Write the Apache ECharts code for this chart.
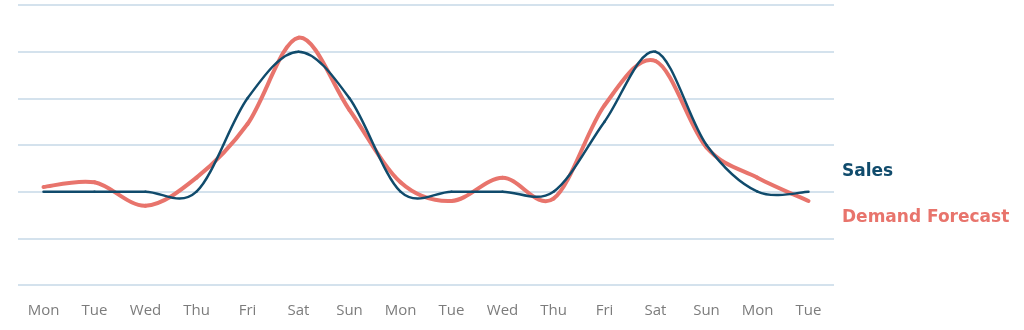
<!DOCTYPE html>
<html>
<head>
<meta charset="utf-8">
<script src="https://cdn.jsdelivr.net/npm/echarts@6/dist/echarts.min.js"></script>
<style>
  html, body { margin: 0; padding: 0; background: #ffffff; }
  #chart { width: 1024px; height: 330px; }
</style>
</head>
<body>
<div id="chart"></div>
<script>
// Two weeks of daily figures
const days = ['Mon', 'Tue', 'Wed', 'Thu', 'Fri', 'Sat', 'Sun', 'Mon', 'Tue', 'Wed', 'Thu', 'Fri', 'Sat', 'Sun', 'Mon', 'Tue'];
const sales = [2, 2, 2, 2, 4, 5, 4, 2, 2, 2, 2, 3.5, 5, 3, 2, 2];
const demandForecast = [2.1, 2.2, 1.7, 2.3, 3.45, 5.3, 3.75, 2.2, 1.8, 2.3, 1.85, 3.85, 4.8, 2.95, 2.3, 1.8];
const seriesNames = ['Sales', 'Demand Forecast'];

const BLUE = '#104b6c';
const RED = '#e8746c';

// Catmull-Rom style curve: each data item draws the cubic segment to the next
// point, with control points taken from the neighbouring points (pixel space).
function curveSeries(name, values, color, width, z) {
  const TENSION = 1 / 6;
  return {
    name: name,
    type: 'custom',
    z: z,
    data: values.map((v, i) => [i, v]),
    encode: { x: 0, y: 1 },
    renderItem: function (params, api) {
      const i = params.dataIndex;
      const n = values.length;
      if (i >= n - 1) return null;
      const p = (k) => api.coord([Math.min(Math.max(k, 0), n - 1), values[Math.min(Math.max(k, 0), n - 1)]]);
      const p0 = p(i - 1), p1 = p(i), p2 = p(i + 1), p3 = p(i + 2);
      return {
        type: 'bezierCurve',
        shape: {
          x1: p1[0], y1: p1[1],
          cpx1: p1[0] + (p2[0] - p0[0]) * TENSION,
          cpy1: p1[1] + (p2[1] - p0[1]) * TENSION,
          cpx2: p2[0] - (p3[0] - p1[0]) * TENSION,
          cpy2: p2[1] - (p3[1] - p1[1]) * TENSION,
          x2: p2[0], y2: p2[1]
        },
        style: { fill: null, stroke: color, lineWidth: width, lineCap: 'round', lineJoin: 'round' }
      };
    }
  };
}

const chart = echarts.init(document.getElementById('chart'), null, { renderer: 'canvas' });

chart.setOption({
  animation: false,
  backgroundColor: '#ffffff',
  grid: { left: 18, right: 190, top: 5, bottom: 45, containLabel: false },
  xAxis: {
    type: 'category',
    data: days,
    boundaryGap: true,
    axisLine: { show: false },
    axisTick: { show: false },
    axisLabel: {
      color: '#7c7c7c',
      fontFamily: 'Open Sans',
      fontSize: 15,
      margin: 18
    }
  },
  yAxis: {
    type: 'value',
    min: 0,
    max: 6,
    interval: 1,
    axisLine: { show: false },
    axisTick: { show: false },
    axisLabel: { show: false },
    splitLine: { lineStyle: { color: '#c6d9e7', width: 1.5 } }
  },
  series: [
    curveSeries(seriesNames[1], demandForecast, RED, 4, 2),
    curveSeries(seriesNames[0], sales, BLUE, 2.5, 3)
  ],
  graphic: [
    {
      type: 'text',
      style: {
        x: 842, y: 172,
        text: seriesNames[0],
        fill: BLUE,
        font: 'bold 17px "DejaVu Sans"',
        verticalAlign: 'middle'
      }
    },
    {
      type: 'text',
      style: {
        x: 842, y: 218,
        text: seriesNames[1],
        fill: RED,
        font: 'bold 17px "DejaVu Sans"',
        verticalAlign: 'middle'
      }
    }
  ]
});
</script>
</body>
</html>
